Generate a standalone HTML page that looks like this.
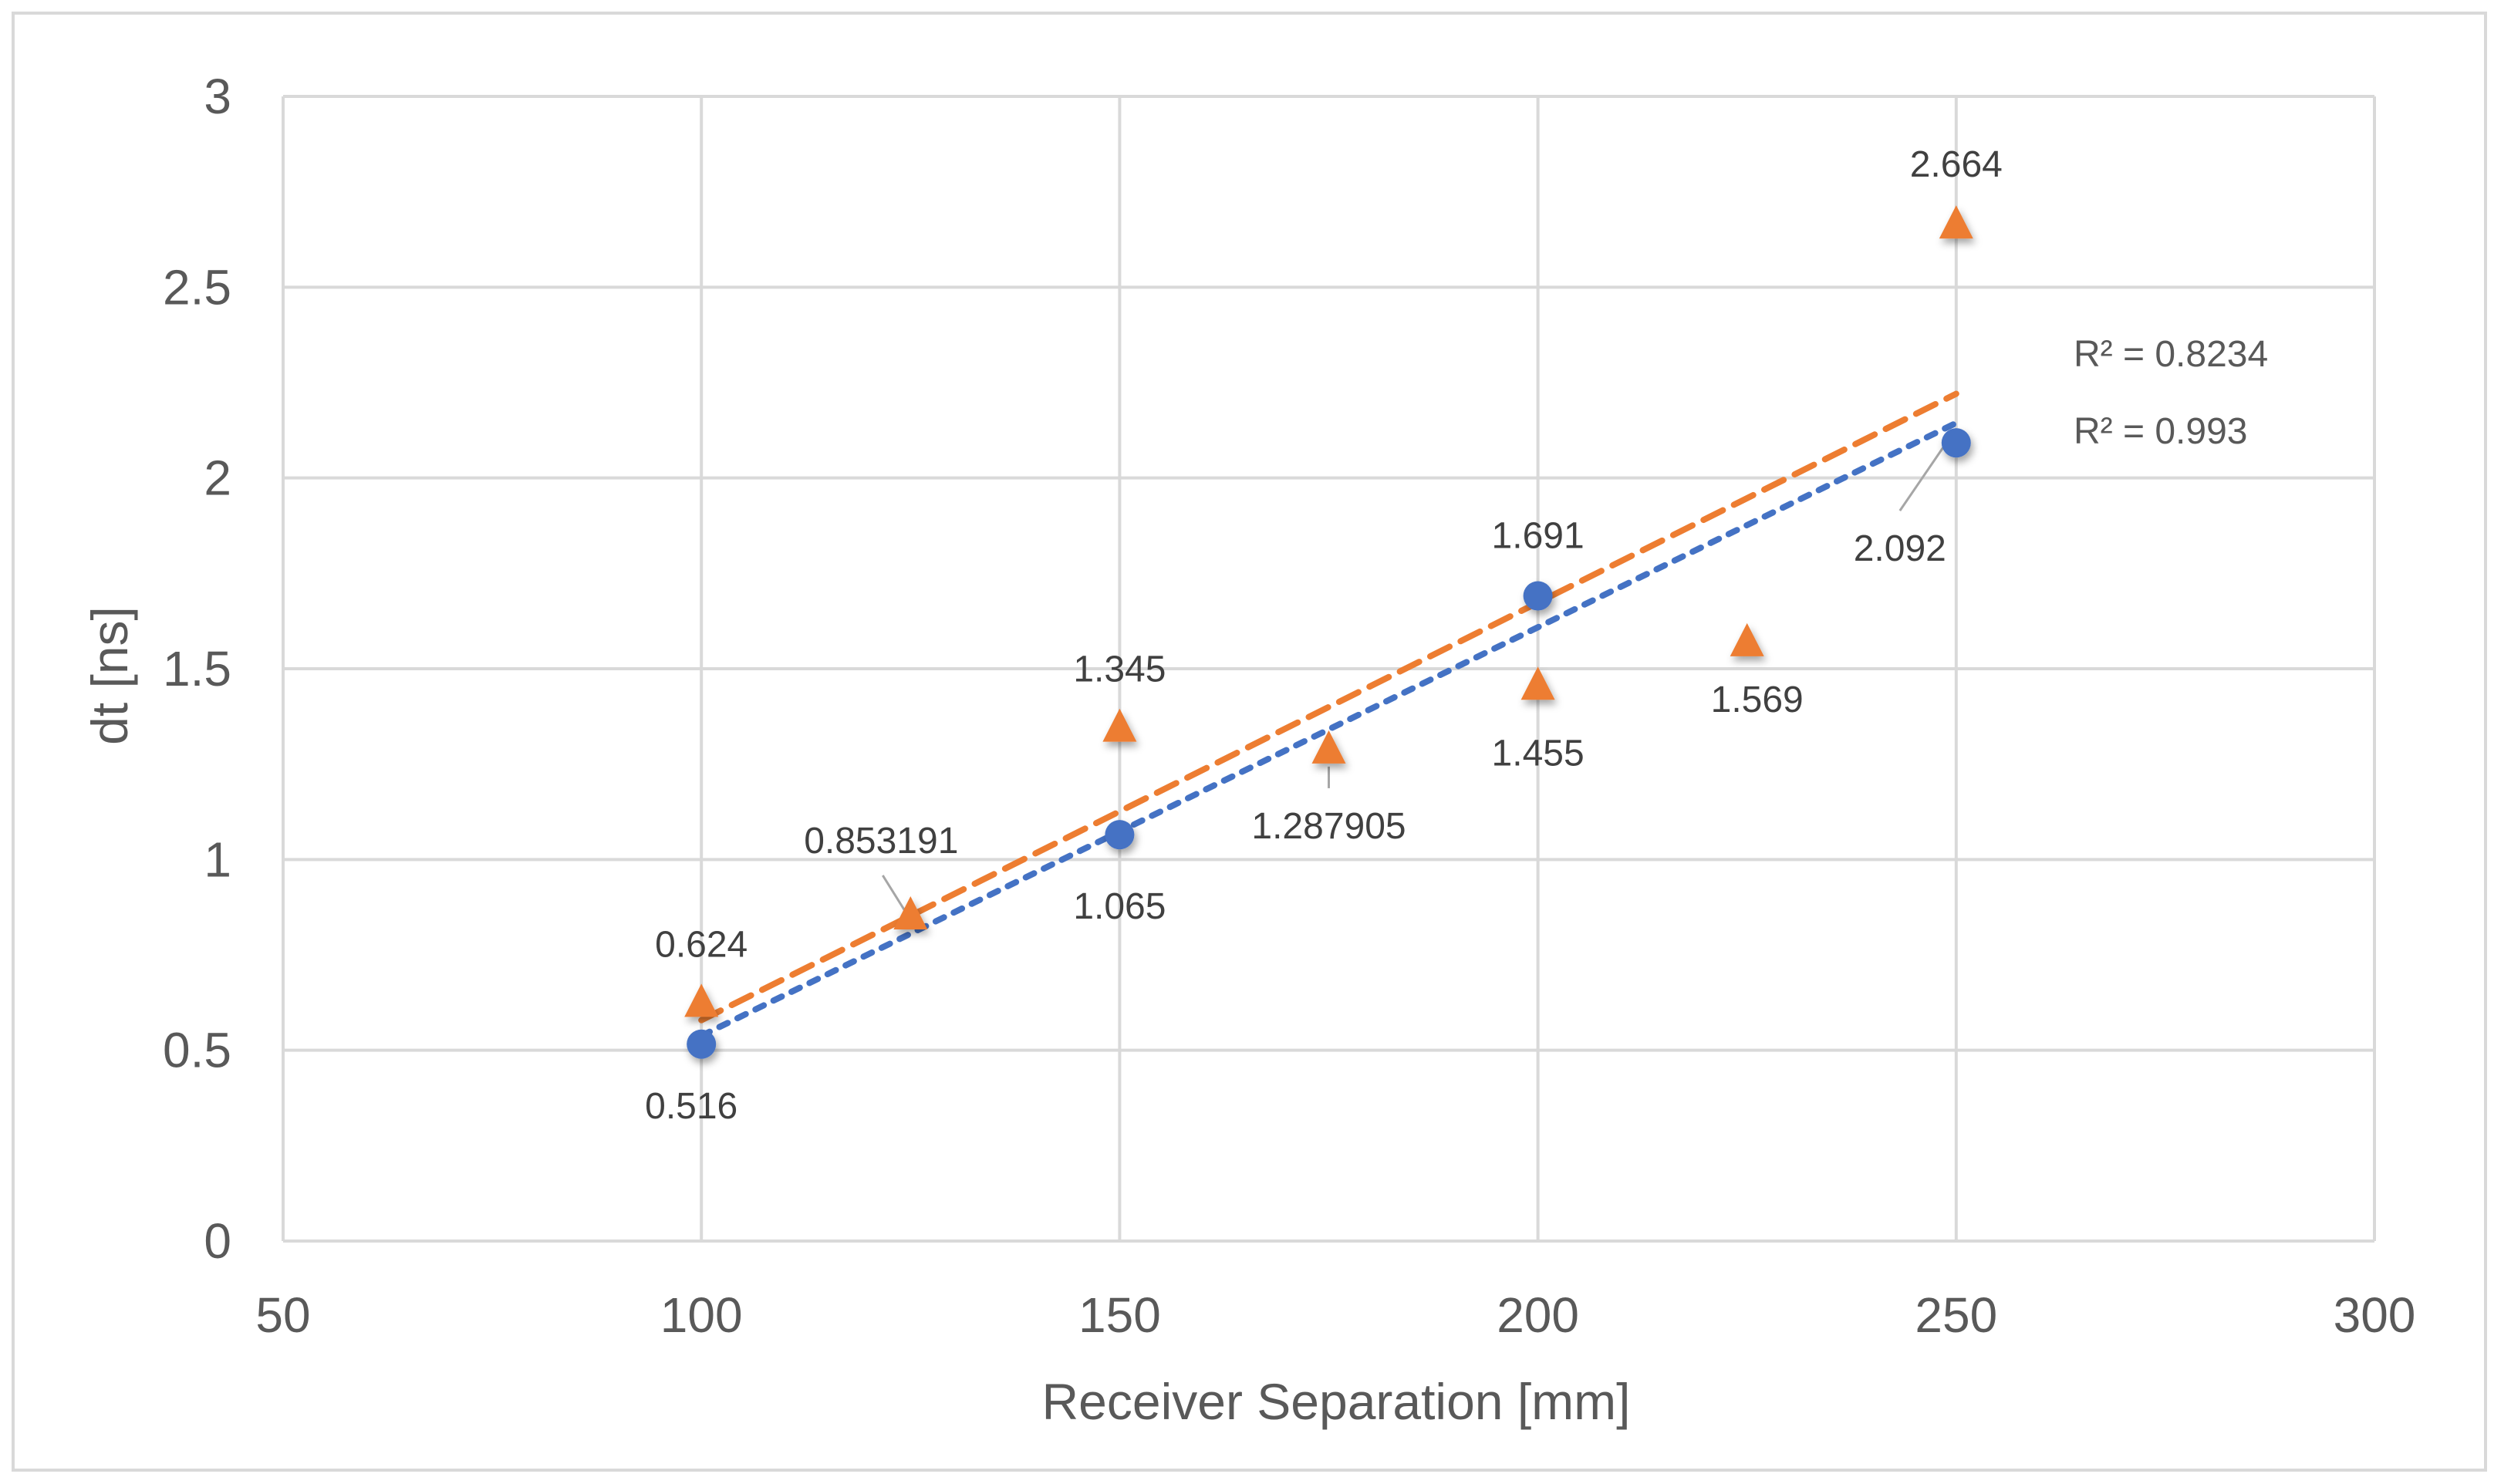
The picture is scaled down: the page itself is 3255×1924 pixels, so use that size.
<!DOCTYPE html>
<html><head><meta charset="utf-8"><style>
html,body{margin:0;padding:0;background:#fff;}
svg{display:block;font-family:"Liberation Sans",sans-serif;}
</style></head><body>
<svg id="chart" width="3255" height="1924" viewBox="0 0 3255 1924">
<defs>
<filter id="sh" x="-50%" y="-50%" width="200%" height="200%"><feDropShadow dx="3" dy="6" stdDeviation="5" flood-color="#000" flood-opacity="0.35"/></filter>
</defs>
<rect x="17" y="17" width="3205" height="1889" fill="#fff" stroke="#d9d9d9" stroke-width="4"/>
<g id="grid"></g>
<g id="ticks"></g>
<g id="trend"></g>
<g id="leaders"></g>
<g id="marks"></g>
<g id="labels"></g>
<text x="1732" y="1840" font-size="66" fill="#595959" text-anchor="middle">Receiver Separation [mm]</text>
<text transform="translate(165,876) rotate(-90)" font-size="66" fill="#595959" text-anchor="middle">dt [ns]</text>
<text x="2688" y="475" font-size="48" fill="#595959">R² = 0.8234</text>
<text x="2688" y="575" font-size="48" fill="#595959">R² = 0.993</text>
</svg>
<script>
const xTicks = [50,100,150,200,250,300];
const yTicks = [0,0.5,1,1.5,2,2.5,3];
const yTickLabels = ["0","0.5","1","1.5","2","2.5","3"];
const blueX = [100,150,200,250];
const blueY = [0.516,1.065,1.691,2.092];
const blueLabels = ["0.516","1.065","1.691","2.092"];
const orangeX = [100,125,150,175,200,225,250];
const orangeY = [0.624,0.853191,1.345,1.287905,1.455,1.569,2.664];
const orangeLabels = ["0.624","0.853191","1.345","1.287905","1.455","1.569","2.664"];

const L=367,R=3078,T=125,B=1609;
const sx=v=>L+(v-50)/250*(R-L);
const sy=v=>B-(v/3)*(B-T);
const NS="http://www.w3.org/2000/svg";
function mk(tag,attrs,parent,txt){const e=document.createElementNS(NS,tag);for(const k in attrs)e.setAttribute(k,attrs[k]);if(txt!==undefined)e.textContent=txt;document.getElementById(parent).appendChild(e);return e;}

xTicks.forEach((t,i)=>{
  const g=mk('line',{x1:sx(t),x2:sx(t),y1:T,y2:B,stroke:'#d9d9d9','stroke-width':4},'grid');
  
  
  const l=mk('text',{x:sx(t),y:B+118,'font-size':64,fill:'#595959','text-anchor':'middle'},'ticks',String(t));
  
  
});
yTicks.forEach((t,i)=>{
  const g=mk('line',{x1:L,x2:R,y1:sy(t),y2:sy(t),stroke:'#d9d9d9','stroke-width':4},'grid');
  
  
  const l=mk('text',{x:300,y:sy(t)+22,'font-size':64,fill:'#595959','text-anchor':'end'},'ticks',yTickLabels[i]);
  
  
});

function fit(xs,ys){const n=xs.length;let mx=0,my=0;xs.forEach((x,i)=>{mx+=x;my+=ys[i];});mx/=n;my/=n;let sxy=0,sxx=0;xs.forEach((x,i)=>{sxy+=(x-mx)*(ys[i]-my);sxx+=(x-mx)*(x-mx);});const m=sxy/sxx;return [m,my-m*mx];}
const fo=fit(orangeX,orangeY), fb=fit(blueX,blueY);
const x0o=Math.min(...orangeX),x1o=Math.max(...orangeX),x0b=Math.min(...blueX),x1b=Math.max(...blueX);
const to=mk('line',{x1:sx(x0o),y1:sy(fo[0]*x0o+fo[1]),x2:sx(x1o),y2:sy(fo[0]*x1o+fo[1]),stroke:'#ED7D31','stroke-width':8,'stroke-dasharray':'28 16','stroke-linecap':'round'},'trend');


const tb=mk('line',{x1:sx(x0b),y1:sy(fb[0]*x0b+fb[1]),x2:sx(x1b),y2:sy(fb[0]*x1b+fb[1]),stroke:'#4472C4','stroke-width':8,'stroke-dasharray':'12 14','stroke-linecap':'round'},'trend');



const blueOff=[[-13,79],[0,92],[0,-79],[-73,136]];
const orangeOff=[[0,-77],[-38,-98],[0,-77],[0,98],[0,86],[13,73],[0,-79]];
const orangeLeader=[null,[[-36,-52],[-6,-4]],null,[[0,50],[0,22]],null,null,null];
const blueLeader=[null,null,null,[[-73,88],[-6,-10]]];

orangeX.forEach((x,i)=>{
  const px=sx(x),py=sy(orangeY[i]);
  const m=mk('polygon',{points:`${px},${py-25} ${px-22},${py+18} ${px+22},${py+18}`,fill:'#ED7D31',filter:'url(#sh)'},'marks');
  
  
  const o=orangeOff[i];
  const t=mk('text',{x:px+o[0],y:py+o[1]+17,'font-size':48,fill:'#404040','text-anchor':'middle'},'labels',orangeLabels[i]);
  
  
  const ld=orangeLeader[i];
  if(ld){const l=mk('line',{x1:px+ld[0][0],y1:py+ld[0][1],x2:px+ld[1][0],y2:py+ld[1][1],stroke:'#a6a6a6','stroke-width':3},'leaders');
    
    }
});
blueX.forEach((x,i)=>{
  const px=sx(x),py=sy(blueY[i]);
  const m=mk('circle',{cx:px,cy:py,r:19,fill:'#4472C4',filter:'url(#sh)'},'marks');
  
  
  const o=blueOff[i];
  const t=mk('text',{x:px+o[0],y:py+o[1]+17,'font-size':48,fill:'#404040','text-anchor':'middle'},'labels',blueLabels[i]);
  
  
  const ld=blueLeader[i];
  if(ld){const l=mk('line',{x1:px+ld[0][0],y1:py+ld[0][1],x2:px+ld[1][0],y2:py+ld[1][1],stroke:'#a6a6a6','stroke-width':3},'leaders');
    
    }
});
</script>
</body></html>
